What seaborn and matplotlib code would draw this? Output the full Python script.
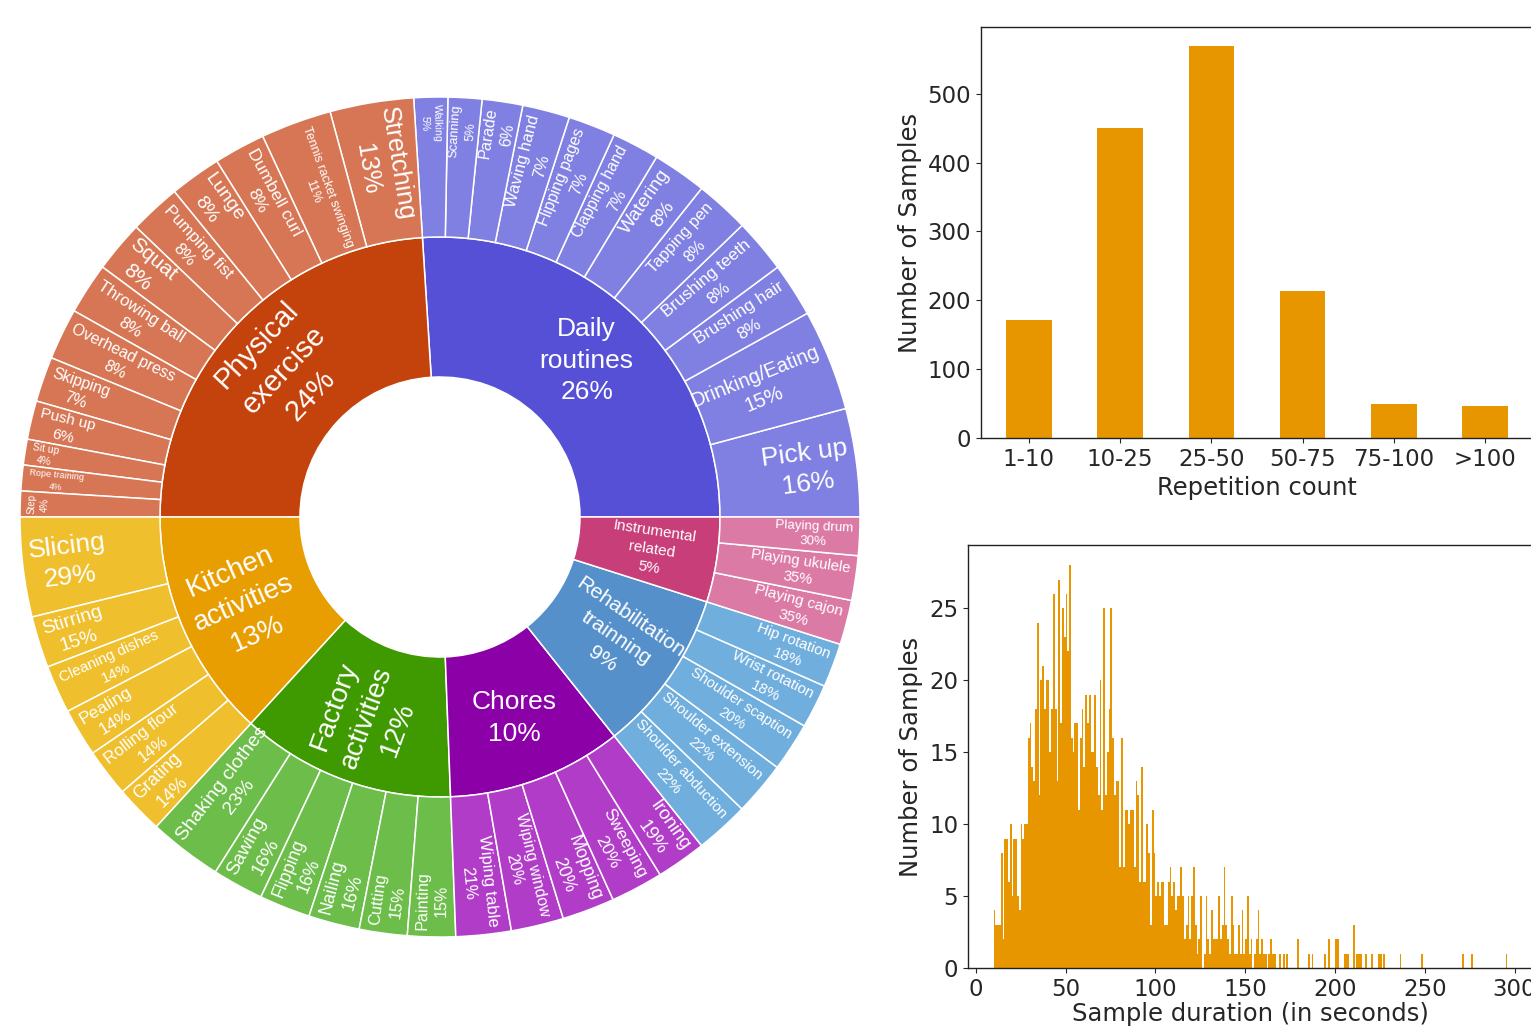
import numpy as np
import pandas as pd
import matplotlib
matplotlib.use("Agg")
import matplotlib.pyplot as plt
import seaborn as sns

# ---------------- data ----------------
# activity groups (inner ring), % of all samples
groups = ["Daily\nroutines", "Physical\nexercise", "Kitchen\nactivities",
          "Factory\nactivities", "Chores", "Rehabilitation\ntrainning",
          "Instrumental\nrelated"]
group_share = [26.0, 24.0, 13.2, 12.4, 10.1, 9.4, 4.9]

# activities of every group (outer ring), % of the parent group
daily_acts = ["Pick up", "Drinking/Eating", "Brushing hair", "Brushing teeth",
              "Tapping pen", "Watering", "Clapping hand", "Flipping pages",
              "Waving hand", "Parade", "Scanning", "Walking"]
daily_pct = [16, 15, 8, 8, 8, 8, 7, 7, 7, 6, 5, 5]
physical_acts = ["Stretching", "Tennis racket swinging", "Dumbell curl", "Lunge",
                 "Pumping fist", "Squat", "Throwing ball", "Overhead press",
                 "Skipping", "Push up", "Sit up", "Rope training", "Step"]
physical_pct = [13, 11, 8, 8, 8, 8, 8, 8, 7, 6, 4, 4, 4]
kitchen_acts = ["Slicing", "Stirring", "Cleaning dishes", "Pealing",
                "Rolling flour", "Grating"]
kitchen_pct = [29, 15, 14, 14, 14, 14]
factory_acts = ["Shaking clothes", "Sawing", "Flipping", "Nailing", "Cutting",
                "Painting"]
factory_pct = [23, 16, 16, 16, 15, 15]
chores_acts = ["Wiping table", "Wiping window", "Mopping", "Sweeping", "Ironing"]
chores_pct = [21, 20, 20, 20, 19]
rehab_acts = ["Shoulder abduction", "Shoulder extension", "Shoulder scaption",
              "Wrist rotation", "Hip rotation"]
rehab_pct = [22, 22, 20, 18, 18]
instr_acts = ["Playing cajon", "Playing ukulele", "Playing drum"]
instr_pct = [35, 35, 30]

acts = [daily_acts, physical_acts, kitchen_acts, factory_acts, chores_acts,
        rehab_acts, instr_acts]
act_pct = [daily_pct, physical_pct, kitchen_pct, factory_pct, chores_pct,
           rehab_pct, instr_pct]

# repetition counts (top right)
rep_bins = ["1-10", "10-25", "25-50", "50-75", "75-100", ">100"]
rep_samples = [172, 450, 569, 214, 49, 47]

# sample durations: samples per second, from 10 s up to 169 s
dur_start = 10
dur_counts = [4, 3, 3, 3, 8, 2, 9, 9, 6, 10, 5, 9, 9, 5, 4, 10, 9, 10,
              10, 16, 17, 14, 13, 18, 24, 12, 20, 21, 18, 20, 20, 15, 18, 26,
              18, 13, 27, 17, 25, 23, 26, 22, 28,
              16, 15, 17, 17, 11, 16, 18, 14, 19, 17, 19, 15, 15, 19, 14, 12,
              20, 11, 25, 12, 15, 18, 25, 16, 12, 13, 13,
              7, 16, 7, 11, 11, 10, 11, 11, 7, 13, 12, 6, 14, 6, 6, 10, 8, 3,
              11, 8,
              5, 6, 5, 6, 6, 3, 3, 6, 7, 5, 6, 4, 5, 5, 7, 5, 2, 3, 5, 2, 5,
              7, 3, 1, 2, 5, 0, 1, 5, 2, 1, 4, 2, 2, 2, 5,
              2, 3, 7, 3, 2, 1, 5, 3, 1, 1, 3, 1, 4, 1, 2, 5, 1, 2, 0, 1, 2,
              4, 1, 2, 1, 1, 0, 1, 2, 1, 1, 0, 0, 1]
# sparse long tail
tail_sec = [171, 173, 179, 185, 187, 194, 196, 200, 201, 205, 206, 207, 210,
            212, 213, 214, 217, 220, 224, 225, 227, 236, 248, 271, 276, 295]
tail_counts = [1, 1, 2, 1, 1, 1, 2, 2, 2, 1, 1, 1, 3,
               1, 1, 1, 1, 1, 1, 1, 1, 1, 1, 1, 1, 1]

# ---------------- style ----------------
inner_colors = ["#5550D6", "#C4420C", "#E89D00", "#3E9A00", "#8C00A8",
                "#5590CB", "#C83E78"]
outer_colors = ["#7F80E2", "#D67654", "#EFBF2E", "#6CBD4A", "#B03CC8",
                "#70AEDD", "#DC7AA6"]
inner_fs = [19, 21, 20, 20, 19, 15, 11]
inner_orient = ["h", "t", "r", "r", "h", "r", "r"]
outer_fs = [[19, 14.5, 12.5, 12.3, 11.8, 13.5, 11.3, 11.4, 11.8, 11.4, 9.2, 7.7],
            [18.4, 9.1, 12.6, 14, 12.2, 15, 12.1, 11.4, 11.3, 11, 7.5, 6.6, 7],
            [19, 14, 10.9, 12.5, 12, 13],
            [14, 13.9, 12.7, 13, 11.8, 11.6],
            [12, 11.4, 12.8, 12.5, 13.4],
            [10.7, 10.6, 10.5, 11, 10.9],
            [11, 10.7, 9.6]]
orange = "#E79600"
sun_font = "Liberation Sans"

sns.set_style("ticks")
plt.rcParams["font.family"] = ["DejaVu Sans"]

W, H = 1531, 1026
fig = plt.figure(figsize=(W / 100, H / 100), dpi=100)
renderer = fig.canvas.get_renderer()


def rect(x0, y0, x1, y1):
    # pixel box (top-left origin) -> figure fraction
    return [x0 / W, (H - y1) / H, (x1 - x0) / W, (y1 - y0) / H]


def rot_for(theta, orient):
    if orient == "h":
        return 0.0
    a = theta if orient == "r" else theta - 90
    a = (a + 180) % 360 - 180
    if a > 90:
        a -= 180
    elif a <= -90:
        a += 180
    return a


# ---------------- sunburst ----------------
R_PX = 420
ax_sun = fig.add_axes(rect(20, 97, 860, 937))
outer_vals, outer_cols = [], []
for share, pcts, col in zip(group_share, act_pct, outer_colors):
    for p in pcts:
        outer_vals.append(share * p / sum(pcts))
        outer_cols.append(col)

wp = dict(width=1 / 3, edgecolor="white", linewidth=1.1)
ax_sun.pie(group_share, radius=2 / 3, colors=inner_colors, startangle=0,
           counterclock=True, wedgeprops=wp)
ax_sun.pie(outer_vals, radius=1, colors=outer_cols, startangle=0,
           counterclock=True, wedgeprops=wp)
ax_sun.set_xlim(-1, 1)
ax_sun.set_ylim(-1, 1)
ax_sun.set_aspect("equal")
ax_sun.axis("off")

# inner labels
cum = 0.0
for name, share, fs, ori in zip(groups, group_share, inner_fs, inner_orient):
    th = (cum + share / 2) * 3.6
    cum += share
    r = 0.51
    ax_sun.text(r * np.cos(np.radians(th)), r * np.sin(np.radians(th)),
                f"{name}\n{round(share)}%", ha="center", va="center",
                color="white", fontsize=fs, family=sun_font, linespacing=1.4,
                rotation=rot_for(th, ori), rotation_mode="anchor")

# outer labels
cum = 0.0
for share, names, pcts, sizes in zip(group_share, acts, act_pct, outer_fs):
    for name, p, fs in zip(names, pcts, sizes):
        v = share * p / sum(pcts)
        th = (cum + v / 2) * 3.6
        cum += v
        ori = "t" if name == "Step" else "r"
        t = ax_sun.text(0, 0, f"{name}\n{p}%", ha="center", va="center",
                        color="white", fontsize=fs, family=sun_font,
                        linespacing=1.35, rotation_mode="anchor")
        bb = t.get_window_extent(renderer)
        ext = bb.width if ori == "r" else bb.height
        r = (R_PX - 7 - ext / 2) / R_PX
        t.set_position((r * np.cos(np.radians(th)), r * np.sin(np.radians(th))))
        t.set_rotation(rot_for(th, ori))

# ---------------- repetition count bars ----------------
ax_bar = fig.add_axes(rect(981, 27, 1533, 438))
sns.barplot(x=rep_bins, y=rep_samples, color=orange, saturation=1, width=0.5,
            linewidth=0, ax=ax_bar)
ax_bar.set_xlim(-0.525, 5.525)
ax_bar.set_ylim(0, 597)
ax_bar.set_xlabel("Repetition count", fontsize=17.5, labelpad=4)
ax_bar.set_ylabel("Number of Samples", fontsize=17.5)
ax_bar.tick_params(labelsize=16.5)

# ---------------- duration histogram ----------------
seconds = list(range(dur_start, dur_start + len(dur_counts))) + tail_sec
counts = dur_counts + tail_counts
durations = np.repeat(seconds, counts)
ax_hist = fig.add_axes(rect(968, 545, 1533, 968))
sns.histplot(x=durations, bins=np.arange(10, 297), color=orange, alpha=1,
             linewidth=0, ax=ax_hist)
ax_hist.set_xlim(-4.3, 310.3)
ax_hist.set_ylim(0, 29.4)
ax_hist.set_xlabel("Sample duration (in seconds)", fontsize=17.5, labelpad=1)
ax_hist.set_ylabel("Number of Samples", fontsize=17.5)
ax_hist.tick_params(labelsize=16.5)

for ax in (ax_bar, ax_hist):
    for s in ax.spines.values():
        s.set_color("#222222")
        s.set_linewidth(1)

fig.savefig("out.png", dpi=100)
